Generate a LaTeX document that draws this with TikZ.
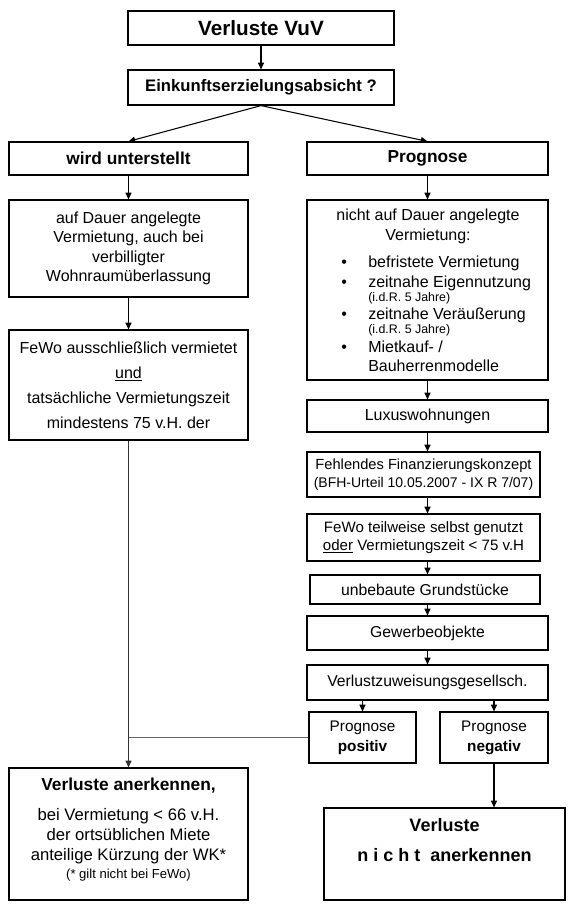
\documentclass[tikz,border=0pt]{standalone}
\usepackage{fontspec}
\setmainfont{Liberation Sans}
\usetikzlibrary{arrows.meta}
\newcommand\bxnode[7]{\node[box,#6, minimum width={(#4-#2)*0.75pt}, minimum height={(#5-#3)*0.75pt}] (#1) at ({(#2+#4)/2},{(#3+#5)/2}) {#7};}
\begin{document}
\begin{tikzpicture}[x=0.75pt,y=-0.75pt,
  box/.style={draw, line width=0.9pt, inner sep=0pt, align=center},
  arr/.style={-{Triangle[length=5pt,width=4.5pt]}, line width=0.8pt},
  plain/.style={line width=0.8pt},
  txt/.style={inner sep=0pt, anchor=base west, font=\fontsize{12}{14}\selectfont},
  small/.style={inner sep=0pt, anchor=base west, font=\fontsize{9.3}{10}\selectfont},
  ctr/.style={inner sep=0pt, anchor=base, font=\fontsize{12.5}{15}\selectfont}]
\useasboundingbox (0,0) rectangle (569,910);
% top
\bxnode{vuv}{128}{11}{394}{45}{font=\fontsize{15.5}{18}\selectfont\bfseries}{Verluste VuV}
\bxnode{eza}{128}{70}{394}{105}{font=\fontsize{12.5}{15}\selectfont\bfseries}{Einkunftserzielungsabsicht ?}
\bxnode{wu}{9}{142}{248}{175}{font=\fontsize{13}{15}\selectfont\bfseries}{wird unterstellt}
\bxnode{prog}{307}{142}{548}{175}{font=\fontsize{13}{15}\selectfont\bfseries}{Prognose}
% left column
\bxnode{dauer}{9}{200}{248}{297}{font=\fontsize{12}{14.5}\selectfont}{auf Dauer angelegte\\Vermietung, auch bei\\verbilligter\\Wohnraumüberlassung}
\bxnode{fewo}{9}{330}{248}{440}{font=\fontsize{12}{18.75}\selectfont}{FeWo ausschließlich vermietet\\\underline{und}\\tatsächliche Vermietungszeit\\mindestens 75 v.H. der}
% right column
\bxnode{nad}{307}{200}{548}{380}{}{}
\node[inner sep=0pt, align=center, font=\fontsize{12}{14.5}\selectfont, anchor=north] (nadt) at (428,209) {nicht auf Dauer angelegte\\Vermietung:};
\node[txt] (b1) at (341,267) {•};
\node[txt] (t1) at (368,267) {befristete Vermietung};
\node[txt] (b2) at (341,287) {•};
\node[txt] (t2) at (368,287) {zeitnahe Eigennutzung};
\node[small] (s2) at (368,301) {(i.d.R. 5 Jahre)};
\node[txt] (b3) at (341,319) {•};
\node[txt] (t3) at (368,319) {zeitnahe Veräußerung};
\node[small] (s3) at (368,333) {(i.d.R. 5 Jahre)};
\node[txt] (b4) at (341,352) {•};
\node[txt] (t4) at (368,352) {Mietkauf- /};
\node[txt] (t5) at (368,371) {Bauherrenmodelle};
\bxnode{lux}{307}{400}{548}{432}{font=\fontsize{12}{14}\selectfont}{Luxuswohnungen}
\bxnode{fehl}{307}{452}{540}{497}{font=\fontsize{11}{13.5}\selectfont}{Fehlendes Finanzierungskonzept\\{\fontsize{10.5}{13}\selectfont (BFH-Urteil 10.05.2007 - IX R 7/07)}}
\bxnode{tw}{307}{514}{540}{561}{font=\fontsize{11.3}{13.5}\selectfont}{FeWo teilweise selbst genutzt\\\underline{oder} Vermietungszeit < 75 v.H}
\bxnode{unb}{310}{575}{540}{604}{font=\fontsize{11.8}{14}\selectfont}{unbebaute Grundstücke}
\bxnode{gew}{307}{616}{548}{650}{font=\fontsize{11.8}{14}\selectfont}{Gewerbeobjekte}
\bxnode{vzg}{307}{665}{548}{700}{font=\fontsize{11.8}{14}\selectfont}{Verlustzuweisungsgesellsch.}
\bxnode{pos}{309}{712}{416}{763}{font=\fontsize{11.5}{15}\selectfont}{Prognose\\\textbf{positiv}}
\bxnode{neg}{440}{712}{548}{763}{font=\fontsize{11.5}{15}\selectfont}{Prognose\\\textbf{negativ}}
% bottom
\bxnode{anerk}{9}{768}{248}{900}{}{}
\node[ctr, font=\fontsize{13}{15}\selectfont\bfseries] (a1) at (128.5,790) {Verluste anerkennen,};
\node[ctr] (a2) at (128.5,820) {bei Vermietung < 66 v.H.};
\node[ctr] (a3) at (128.5,840) {der ortsüblichen Miete};
\node[ctr] (a4) at (128.5,860) {anteilige Kürzung der WK*};
\node[ctr, font=\fontsize{9.8}{11}\selectfont] (a5) at (128.5,878) {(* gilt nicht bei FeWo)};
\bxnode{nan}{324}{808}{565}{900}{}{}
\node[ctr, font=\fontsize{13.5}{15}\selectfont\bfseries] (n1) at (444.5,831) {Verluste};
\node[ctr, font=\fontsize{13.5}{15}\selectfont\bfseries] (n2) at (444.5,861) {n i c h t\ \ anerkennen};
% connectors
\draw[arr] (vuv) -- (eza);
\draw[arr] (eza.south) -- (wu.north);
\draw[arr] (eza.south) -- (prog.north);
\draw[arr] (wu) -- (dauer);
\draw[arr] (dauer) -- (fewo);
\draw[arr] (prog) -- (nad);
\draw[arr] (nad.south) -- (nad.south |- lux.north);
\draw[arr] (lux.south) -- (lux.south |- fehl.north);
\draw[arr] (lux.south |- fehl.south) -- (lux.south |- tw.north);
\draw[arr] (lux.south |- tw.south) -- (lux.south |- unb.north);
\draw[arr] (lux.south |- unb.south) -- (lux.south |- gew.north);
\draw[arr] (gew.south) -- (gew.south |- vzg.north);
\draw[arr] (pos.north |- vzg.south) -- (pos.north);
\draw[arr] (neg.north |- vzg.south) -- (neg.north);
\draw[arr] (neg.south) -- (neg.south |- nan.north);
\draw[arr, draw=black!80] (fewo.south) -- (anerk.north);
\draw[plain, draw=black!60] (pos.west) -- (fewo.south |- pos.west);
\end{tikzpicture}
\end{document}
